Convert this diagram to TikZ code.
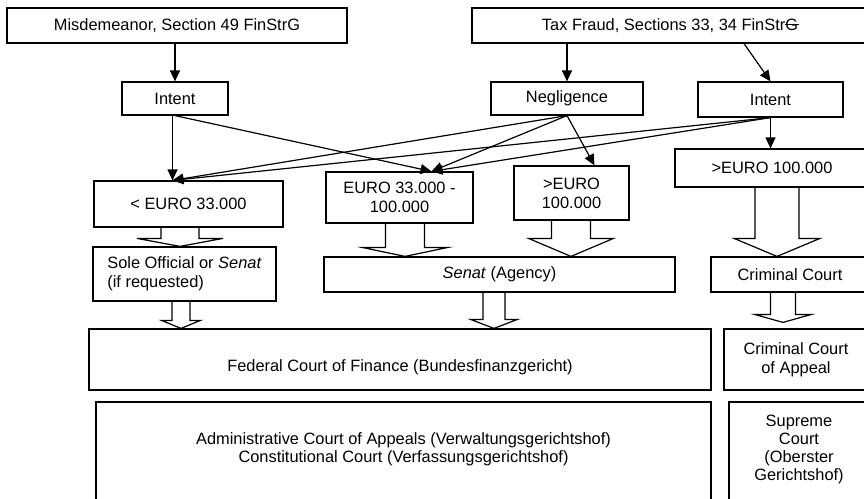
\documentclass[tikz,border=0pt]{standalone}
\usepackage{fontspec}
\setmainfont{Liberation Sans}
\usetikzlibrary{arrows.meta,positioning,calc}
\newcommand{\struckG}{\rlap{\rule[0.32em]{0.85em}{0.06em}}G}
\tikzstyle{panel} = [rectangle, draw=black, line width=1.2pt, inner sep=3pt, align=center, font=\fontsize{16.4}{19}\selectfont]
\tikzstyle{paneltext} = [inner sep=3pt, align=center, font=\fontsize{16.4}{18}\selectfont]
\tikzstyle{arrow} = [line width=1.2pt,-{Triangle[length=11pt,width=10pt]}]
\tikzstyle{hollow} = [line width=1.2pt, line join=miter]
% block arrow: from, to, x, shaft half width, head half width, head length, gap
\newcommand{\hollowarrow}[7]{%
  \coordinate (ha-tip) at ($({#3},0 |- #2.north)+(0,#7)$);
  \coordinate (ha-base) at ($(ha-tip)+(0,#6)$);
  \draw[hollow] ({#3-#4},0 |- #1.south) -- ({#3-#4},0 |- ha-base) -- ({#3-#5},0 |- ha-base) -- (ha-tip)
    -- ({#3+#5},0 |- ha-base) -- ({#3+#4},0 |- ha-base) -- ({#3+#4},0 |- #1.south);
}
\begin{document}
\begin{tikzpicture}[x=1pt, y=1pt]
\useasboundingbox (0,0) rectangle (864,-498);
% offences
\node (mis) [panel, minimum width=340, minimum height=35] at (177,-25.5) {Misdemeanor, Section 49 FinStrG};
\node (tax) [panel, minimum width=396, minimum height=35] at (670,-25.5) {Tax Fraud, Sections 33, 34 FinStr\struckG};
% culpability
\node (intL) [panel, minimum width=106, minimum height=33] at (175,-98.5) {Intent};
\node (neg) [panel, minimum width=152, minimum height=33] at (567,-98.5) {Negligence};
\node (intR) [panel, minimum width=145, minimum height=35] at (770.5,-99.5) {Intent};
% amounts
\node (lt33) [panel, minimum width=189, minimum height=46] at (188.5,-204) {< EURO 33.000};
\node (mid) [panel, minimum width=147, minimum height=51] at (399.5,-197.5) {EURO 33.000 -\\100.000};
\node (gt100m) [panel, minimum width=115, minimum height=54] at (571.5,-193) {>EURO\\100.000};
\node (gt100r) [panel, minimum width=194, minimum height=38] at (772,-168) {>EURO 100.000};
% first instance
\node (sole) [panel, align=left, minimum width=183, minimum height=54] at (184.5,-274) {Sole Official or \textit{Senat}\\(if requested)};
\node (senat) [panel, minimum width=351, minimum height=35] at (499.5,-274.5) {\textit{Senat} (Agency)};
\node (crim) [panel, minimum width=158, minimum height=35] at (790,-274.5) {Criminal Court};
% appeal courts
\node (fed) [panel, minimum width=622, minimum height=61, text height=26pt, text depth=3pt] at (400,-359.5) {Federal Court of Finance (Bundesfinanzgericht)};
\node (crimapp) [panel, minimum width=144, minimum height=61] at (796,-359.5) {Criminal Court\\of Appeal};
\node (admin) [panel, minimum width=615, minimum height=128] at (403.5,-466) {};
\node (supreme) [panel, minimum width=140, minimum height=128] at (799,-466) {};
\node (admintext) [paneltext] at (admin.center |- 0,-449) {Administrative Court of Appeals (Verwaltungsgerichtshof)\\Constitutional Court (Verfassungsgerichtshof)};
\node (supremetext) [paneltext] at (supreme.center |- 0,-449) {Supreme\\Court\\(Oberster\\Gerichtshof)};

\coordinate (lt33in) at ([xshift=-16pt]lt33.north);
\coordinate (midin) at ([xshift=32pt]mid.north);

\draw[arrow] (mis.south -| intL.north) -- (intL.north);
\draw[arrow] (tax.south -| neg.north) -- (neg.north);
\draw[arrow] ([xshift=74pt]tax.south) -- (intR.north);
\draw[arrow] (intL.south -| lt33in) -- (lt33in);
\foreach \src in {neg,intR}
  \draw[arrow] (\src.south) -- (lt33in);
\foreach \src in {intL,neg,intR}
  \draw[arrow] (\src.south) -- (midin);
\draw[arrow] (neg.south) -- ([xshift=23pt]gt100m.north);
\draw[arrow] (intR.south) -- (intR.south |- gt100r.north);

\hollowarrow{lt33}{sole}{180}{19}{43}{8}{0}
\hollowarrow{mid}{senat}{405}{19.5}{43}{9}{0}
\hollowarrow{gt100m}{senat}{571}{19.5}{42.5}{18}{0}
\hollowarrow{gt100r}{crim}{777}{22}{43}{18}{0}
\hollowarrow{sole}{fed}{181}{9}{19.5}{8}{0}
\hollowarrow{senat}{fed}{494}{11}{23.5}{9}{0}
\hollowarrow{crim}{crimapp}{783}{12.5}{28.5}{8}{6}
\end{tikzpicture}
\end{document}
